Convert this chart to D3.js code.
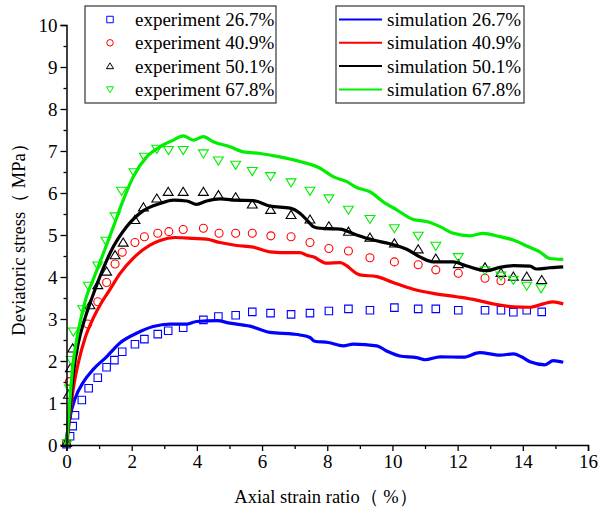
<!DOCTYPE html>
<html>
<head>
<meta charset="utf-8">
<script src="https://cdn.jsdelivr.net/npm/d3@7"></script>
<style>
	body { margin: 0; background: #fff; }
	svg { display: block; }
	text { font-family: "Liberation Serif", "Times New Roman", serif; fill: #000; }
</style>
</head>
<body>
<svg width="600" height="515"></svg>
<script>
// tick labels
var xTicks = [0, 2, 4, 6, 8, 10, 12, 14, 16];
var yTicks = [0, 1, 2, 3, 4, 5, 6, 7, 8, 9, 10];

var seriesNames = ['26.7%', '40.9%', '50.1%', '67.8%'];
var seriesColors = ['#0000ff', '#ff0000', '#000000', '#00ee00'];

// experiment points [strain %, stress MPa]
var exp267 = [[0,0.02],[0.11,0.21],[0.19,0.45],[0.26,0.71],[0.47,1.07],[0.68,1.35],[0.96,1.60],[1.23,1.85],
	[1.47,2.02],[1.71,2.22],[2.10,2.40],[2.39,2.52],[2.80,2.64],[3.12,2.72],[3.58,2.79],[4.20,2.98],[4.66,3.06],
	[5.19,3.09],[5.70,3.17],[6.26,3.14],[6.89,3.11],[7.47,3.14],[8.05,3.19],[8.65,3.24],[9.31,3.21],[10.06,3.27],
	[10.79,3.24],[11.33,3.24],[12.02,3.21],[12.84,3.21],[13.33,3.21],[13.71,3.16],[14.12,3.21],[14.58,3.17]];
var exp409 = [[0,0.05],[0.09,1.51],[0.65,2.88],[0.96,3.41],[1.23,3.87],[1.49,4.31],[1.71,4.59],[2.10,4.82],
	[2.39,4.96],[2.80,5.04],[3.14,5.08],[3.58,5.13],[4.20,5.16],[4.68,5.04],[5.19,5.04],[5.70,5.04],[6.27,4.98],
	[6.89,4.96],[7.47,4.82],[8.05,4.68],[8.65,4.62],[9.31,4.46],[10.06,4.36],[10.79,4.29],[11.33,4.17],
	[12.02,4.09],[12.84,3.97],[13.33,3.91]];
var exp501 = [[0,0.05],[0.06,1.2],[0.12,1.83],[0.19,2.30],[0.72,3.33],[0.96,3.81],[1.23,4.13],[1.49,4.52],
	[1.74,4.82],[2.10,5.36],[2.36,5.66],[2.77,5.87],[3.12,6.03],[3.58,6.03],[4.20,6.03],[4.66,5.95],[5.19,5.90],
	[5.70,5.73],[6.26,5.60],[6.89,5.48],[7.47,5.37],[8.05,5.21],[8.65,5.08],[9.31,4.94],[10.06,4.80],
	[10.79,4.66],[11.33,4.44],[12.02,4.31],[12.84,4.23],[13.33,4.10],[13.71,4.01],[14.12,4.01],[14.58,3.93]];
var exp678 = [[0.02,0.04],[0.09,1.35],[0.14,2.02],[0.21,2.70],[0.50,3.23],[0.67,3.79],[0.96,4.27],[1.21,4.86],
	[1.49,5.44],[1.69,6.05],[2.07,6.49],[2.39,6.86],[2.77,7.05],[3.13,7.02],[3.58,7.02],[4.20,6.94],[4.66,6.77],
	[5.19,6.67],[5.70,6.52],[6.26,6.40],[6.89,6.25],[7.47,6.05],[8.05,5.87],[8.65,5.60],[9.31,5.38],
	[10.06,5.16],[10.79,4.98],[11.33,4.74],[12.02,4.47],[12.84,4.16],[13.33,4.03],[13.71,3.93],[14.12,3.79],[14.56,3.73]];

// simulation curves
var sim267 = [[0,0],[0.02,0.2],[0.11,0.67],[0.26,1.1],[0.52,1.5],[0.82,1.8],[1.23,2.1],[1.64,2.43],[2.15,2.66],
	[2.66,2.82],[3.17,2.88],[3.69,2.88],[3.99,2.94],[4.61,2.96],[5.02,2.90],[5.63,2.83],[6.24,2.68],[6.96,2.64],
	[7.16,2.62],[7.47,2.56],[7.62,2.47],[8.03,2.44],[8.49,2.36],[8.80,2.40],[9.52,2.36],[9.82,2.24],[10.23,2.12],
	[10.74,2.08],[11.0,2.03],[11.46,2.10],[12.17,2.09],[12.68,2.20],[13.30,2.14],[13.71,2.17],[13.96,2.10],
	[14.22,1.98],[14.68,1.91],[14.93,2.01],[15.24,1.97]];
var sim409 = [[0,0],[0.02,0.1],[0.11,0.78],[0.21,1.35],[0.36,1.95],[0.57,2.55],[0.82,3.02],[1.08,3.4],[1.33,3.7],
	[1.64,4.08],[2.05,4.45],[2.56,4.76],[2.87,4.87],[3.33,4.94],[3.89,4.92],[4.30,4.90],[4.71,4.82],[5.22,4.75],
	[5.73,4.71],[6.24,4.60],[6.86,4.58],[7.16,4.58],[7.37,4.52],[7.57,4.48],[7.98,4.33],[8.39,4.34],[9.0,4.05],
	[9.52,4.01],[10.02,3.87],[10.64,3.71],[11.25,3.61],[11.97,3.53],[12.58,3.45],[13.09,3.36],[13.71,3.29],
	[14.22,3.28],[14.63,3.36],[14.93,3.41],[15.24,3.36]];
var sim501 = [[0,0],[0.02,0.2],[0.11,0.91],[0.21,1.71],[0.36,2.42],[0.52,2.9],[0.72,3.37],[0.87,3.69],[1.1,4.15],
	[1.33,4.56],[1.85,5.20],[2.36,5.58],[2.87,5.75],[3.28,5.83],[3.69,5.81],[3.99,5.73],[4.30,5.81],[4.71,5.86],
	[5.22,5.83],[5.73,5.82],[6.24,5.69],[6.86,5.64],[7.16,5.52],[7.42,5.32],[7.57,5.20],[7.78,5.16],[8.39,5.14],
	[8.90,5.00],[9.41,4.88],[9.92,4.79],[10.44,4.66],[10.84,4.48],[11.25,4.36],[11.87,4.36],[12.28,4.26],
	[12.89,4.15],[13.30,4.23],[13.71,4.27],[14.22,4.26],[14.42,4.19],[14.83,4.22],[15.24,4.24]];
var sim678 = [[0,0],[0.02,0.2],[0.09,0.91],[0.19,1.86],[0.31,2.5],[0.47,3.1],[0.62,3.55],[0.8,3.9],[1.13,4.56],
	[1.44,5.20],[1.74,5.83],[2.05,6.39],[2.46,6.86],[2.87,7.10],[3.28,7.26],[3.58,7.36],[3.89,7.26],[4.20,7.34],
	[4.50,7.22],[5.02,7.10],[5.42,6.98],[5.94,6.94],[6.55,6.86],[7.16,6.75],[7.78,6.59],[8.18,6.39],[8.60,6.27],
	[8.90,6.13],[9.31,6.03],[9.72,5.79],[10.13,5.60],[10.64,5.37],[11.05,5.32],[11.46,5.20],[11.87,5.04],
	[12.38,4.98],[12.78,5.04],[13.30,4.96],[13.71,4.88],[14.12,4.74],[14.52,4.60],[14.83,4.44],[15.24,4.42]];

var expData = [exp267, exp409, exp501, exp678];
var simData = [sim267, sim409, sim501, sim678];
var shapes = ['square', 'circle', 'up', 'down'];

var svg = d3.select('svg'),
	margin = {top: 25, right: 12, bottom: 70, left: 66.5},
	width = 588 - margin.left,
	height = 445 - margin.top,
	g = svg.append('g').attr('transform', 'translate(' + margin.left + ',' + margin.top + ')');

var x = d3.scaleLinear().domain([0, 16]).range([0, width]);
var y = d3.scaleLinear().domain([0, 10]).range([height, 0]);

// marker path centred on 0,0
function markerPath(shape, s) {
	var p = d3.path();
	if (shape == 'square') {
		p.rect(-s / 2, -s / 2, s, s);
	} else if (shape == 'circle') {
		p.arc(0, 0, s / 2, 0, 2 * Math.PI);
	} else if (shape == 'up') {
		p.moveTo(0, -s * 0.5); p.lineTo(s * 0.55, s * 0.4); p.lineTo(-s * 0.55, s * 0.4); p.closePath();
	} else {
		p.moveTo(0, s * 0.5); p.lineTo(s * 0.55, -s * 0.4); p.lineTo(-s * 0.55, -s * 0.4); p.closePath();
	}
	return p.toString();
}
var markerSize = {square: 7.5, circle: 8, up: 9, down: 9};

// experiment markers
expData.forEach(function(data, i) {
	g.append('g').selectAll('path')
		.data(data)
		.enter().append('path')
		.attr('transform', function(d) { return 'translate(' + x(d[0]) + ',' + y(d[1]) + ')'; })
		.attr('d', markerPath(shapes[i], markerSize[shapes[i]]))
		.attr('fill', 'none')
		.attr('stroke', seriesColors[i])
		.attr('stroke-width', 1.1);
});

// simulation lines
var line = d3.line()
	.x(function(d) { return x(d[0]); })
	.y(function(d) { return y(d[1]); })
	.curve(d3.curveMonotoneX);

simData.forEach(function(data, i) {
	g.append('path')
		.datum(data)
		.attr('fill', 'none')
		.attr('stroke', seriesColors[i])
		.attr('stroke-width', 3.2)
		.attr('stroke-linejoin', 'round')
		.attr('d', line);
});

// axes
g.append('g')
	.attr('transform', 'translate(0,' + height + ')')
	.call(d3.axisBottom(x).tickValues(xTicks).tickSize(6).tickPadding(4));
g.append('g')
	.attr('transform', 'translate(0,' + height + ')')
	.call(d3.axisBottom(x).tickValues(d3.range(1, 16, 2)).tickSize(4).tickFormat(''))
	.select('.domain').remove();
var yAxis = g.append('g')
	.call(d3.axisLeft(y).tickValues(yTicks).tickSize(6).tickPadding(3));
g.append('g')
	.call(d3.axisLeft(y).tickValues(d3.range(0.5, 10, 1)).tickSize(3).tickFormat(''))
	.select('.domain').remove();

svg.selectAll('.domain').attr('stroke', '#000').attr('stroke-width', 1.5);
svg.selectAll('.tick line').attr('stroke', '#000').attr('stroke-width', 1.3);
svg.selectAll('.tick text')
	.attr('font-family', '"Liberation Serif", serif')
	.attr('font-size', 19)
	.attr('fill', '#000');
yAxis.selectAll('.tick text').attr('dy', '0.34em');

// axis titles
svg.append('text')
	.attr('x', 326)
	.attr('y', 503)
	.attr('text-anchor', 'middle')
	.attr('font-size', 18.5)
	.text('Axial strain ratio（ %）');

svg.append('text')
	.attr('transform', 'translate(25,235) rotate(-90)')
	.attr('text-anchor', 'middle')
	.attr('font-size', 18.5)
	.text('Deviatoric stress（ MPa）');

// legends
var leg1 = svg.append('g').attr('transform', 'translate(85,6)');
leg1.append('rect')
	.attr('width', 191).attr('height', 97)
	.attr('fill', '#fff').attr('stroke', '#444').attr('stroke-width', 1.3);
seriesNames.forEach(function(name, i) {
	var cy = 13.5 + i * 23.3;
	leg1.append('path')
		.attr('transform', 'translate(25,' + cy + ')')
		.attr('d', markerPath(shapes[i], 6.5))
		.attr('fill', 'none')
		.attr('stroke', seriesColors[i])
		.attr('stroke-width', 1);
	leg1.append('text')
		.attr('x', 50).attr('y', cy + 6.5)
		.attr('font-size', 19)
		.text('experiment ' + name);
});

var leg2 = svg.append('g').attr('transform', 'translate(336,6)');
leg2.append('rect')
	.attr('width', 188).attr('height', 97)
	.attr('fill', '#fff').attr('stroke', '#444').attr('stroke-width', 1.3);
seriesNames.forEach(function(name, i) {
	var cy = 13.5 + i * 23.3;
	leg2.append('line')
		.attr('x1', 3).attr('x2', 46)
		.attr('y1', cy).attr('y2', cy)
		.attr('stroke', seriesColors[i])
		.attr('stroke-width', 2);
	leg2.append('text')
		.attr('x', 51).attr('y', cy + 6.5)
		.attr('font-size', 19)
		.text('simulation ' + name);
});
</script>
</body>
</html>
